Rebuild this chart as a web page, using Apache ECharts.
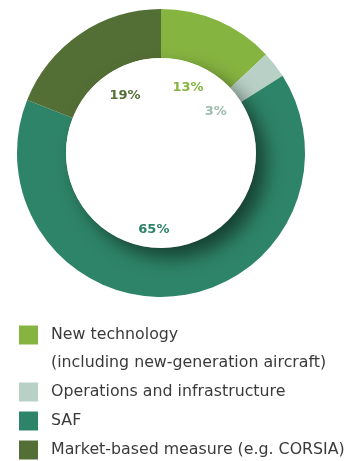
<!DOCTYPE html>
<html>
<head>
<meta charset="utf-8">
<script src="https://cdn.jsdelivr.net/npm/echarts@6/dist/echarts.min.js"></script>
<style>
html,body{margin:0;padding:0;background:#fff;}
#chart{width:355px;height:461px;}
</style>
</head>
<body>
<div id="chart"></div>
<script>
var categories = ['New technology', 'Operations and infrastructure', 'SAF', 'Market-based measure (e.g. CORSIA)'];
var legendNames = ['New technology\n(including new-generation aircraft)', 'Operations and infrastructure', 'SAF', 'Market-based measure (e.g. CORSIA)'];
var values = [13, 3, 65, 19];
var colors = ['#86b441', '#b8d0c5', '#2e8468', '#546f35'];
var labelColors = ['#86b441', '#9dbcaf', '#2e8468', '#546f35'];

var center = [161, 153];
var labelNudge = [[-2, 2], [-3, 3], [-14, 4], [5, 3]];

var ringData = values.map(function (v, i) {
  return { name: legendNames[i], value: v, itemStyle: { color: colors[i] } };
});
var labelData = values.map(function (v, i) {
  return {
    name: categories[i] + ' label',
    value: v,
    itemStyle: { color: 'rgba(0,0,0,0)' },
    label: { color: labelColors[i] }
  };
});

var chart = echarts.init(document.getElementById('chart'), null, { renderer: 'canvas' });
chart.setOption({
  animation: false,
  backgroundColor: '#ffffff',
  legend: {
    orient: 'vertical',
    left: 19,
    top: 293,
    padding: 0,
    itemWidth: 19,
    itemHeight: 19,
    itemGap: 1,
    icon: 'rect',
    selectedMode: false,
    formatter: function (name) {
      return name === legendNames[0] ? '\n' + name : name;
    },
    textStyle: {
      fontFamily: 'DejaVu Sans',
      fontSize: 15.8,
      color: '#3a3a3a',
      lineHeight: 28,
      padding: [0, 0, 0, 8]
    },
    data: legendNames
  },
  series: [
    {
      type: 'pie',
      center: center,
      radius: [95, 144],
      startAngle: 90,
      clockwise: true,
      silent: true,
      label: { show: false },
      labelLine: { show: false },
      itemStyle: { borderWidth: 0 },
      data: ringData,
      z: 1
    },
    {
      type: 'pie',
      center: center,
      radius: [0, 95],
      silent: true,
      label: { show: false },
      labelLine: { show: false },
      itemStyle: {
        color: '#ffffff',
        shadowBlur: 18,
        shadowOffsetX: 10,
        shadowOffsetY: 10,
        shadowColor: 'rgba(0,0,0,0.5)'
      },
      data: [{ name: 'hole', value: 1 }],
      z: 2
    },
    {
      type: 'pie',
      center: center,
      radius: [60, 80],
      startAngle: 90,
      clockwise: true,
      silent: true,
      label: {
        show: true,
        position: 'inside',
        formatter: '{c}%',
        fontFamily: 'DejaVu Sans',
        fontWeight: 'bold',
        fontSize: 13
      },
      labelLine: { show: false },
      labelLayout: function (p) {
        var n = labelNudge[p.dataIndex];
        return { dx: n[0], dy: n[1] };
      },
      data: labelData,
      z: 3
    }
  ]
});
</script>
</body>
</html>
